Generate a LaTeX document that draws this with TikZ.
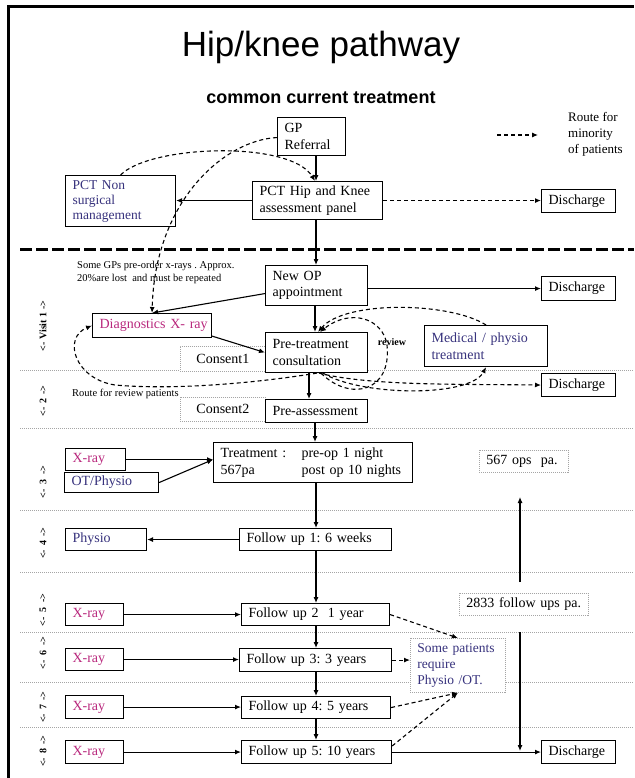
\documentclass[tikz,border=0pt]{standalone}
\usepackage{fontspec}
\setmainfont{Liberation Serif}
\newfontfamily\sansf{Liberation Sans}
\usetikzlibrary{arrows.meta}
\definecolor{mag}{RGB}{185,40,125}
\definecolor{navy}{RGB}{55,50,125}
\definecolor{sepgray}{RGB}{165,165,165}
\newcommand\drawbox[7][]{%
  \pgfmathsetmacro\bxw{#5-#3-14}%
  \pgfmathsetmacro\bxh{#6-#4}%
  \node[box,#1,text width=\bxw pt,minimum height=\bxh pt] (#2) at (#3,#4) {#7};}
\frenchspacing
\begin{document}
\begin{tikzpicture}[x=1pt,y=-1pt,
  box/.style={draw,fill=white,line width=1.1pt,inner xsep=7pt,inner ysep=1pt,align=left,anchor=north west,font=\fontsize{14}{16.5}\selectfont},
  dbox/.style={draw=sepgray,line width=0.8pt,dash pattern=on 1pt off 1pt},
  cbox/.style={align=center},
  arr/.style={line width=1.1pt,-{Latex[length=6pt,width=5pt]}},
  darr/.style={arr,dash pattern=on 4pt off 3pt},
  sepline/.style={draw=sepgray,line width=0.8pt,dash pattern=on 1pt off 1pt},
  stage/.style={rotate=90,inner sep=0pt,font=\bfseries\fontsize{10}{12}\selectfont},
  note/.style={font=\fontsize{10.5}{13}\selectfont,align=left,anchor=north west,inner sep=0pt}]
\useasboundingbox (0,0) rectangle (634,778);
\fill[white] (0,0) rectangle (634,778);
\draw[line width=3pt] (8,778) -- (8,7) -- (634,7);
% title
\node[font=\sansf\fontsize{35}{40}\selectfont] (title) at (321,47) {Hip/knee pathway};
\node[font=\sansf\bfseries\fontsize{18}{22}\selectfont] (sub) at (321,98) {common current treatment};
% legend
\coordinate (lg1) at (497,135); \coordinate (lg2) at (538,135);
\draw[darr] (lg1) -- (lg2);
\node[font=\fontsize{13}{16}\selectfont,align=left,anchor=north west,inner sep=0pt] (legend) at (568,112) {Route for\\minority\\of patients};
% separators
\draw[line width=3pt,dash pattern=on 12pt off 4pt] (20,249) -- (634,249);
\foreach \yy in {370,428,510,572,632,682,727} \draw[sepline] (20,\yy) -- (634,\yy);
% stage labels
\node[stage] (s1) at (43,326) {<- Visit 1 ->};
\node[stage] (s2) at (43,401) {<- \,2\, ->};
\node[stage] (s3) at (43,482) {<- \ 3 \ ->};
\node[stage] (s4) at (43,543) {<- \,4\, ->};
\node[stage] (s5) at (43,610) {<- \ 5 \ ->};
\node[stage] (s6) at (43,653) {<- \ 6 \ ->};
\node[stage] (s7) at (43,707) {<- \,7\, ->};
\node[stage] (s8) at (43,751) {<- \,8\, ->};
% boxes
\drawbox{gp}{277}{117}{345}{155}{GP\\Referral}
\drawbox{pct}{252}{181}{382}{219}{PCT Hip and Knee\\assessment panel}
\drawbox[text=navy,font=\fontsize{13.5}{15}\selectfont]{pctnon}{65}{175}{175}{226}{PCT Non\\surgical\\management}
\drawbox{dis1}{541}{189}{615}{212}{\mbox{Discharge}}
\drawbox{newop}{265}{265}{367}{305}{New OP\\appointment}
\drawbox{dis2}{541}{276}{615}{300}{\mbox{Discharge}}
\drawbox[text=mag]{diag}{92}{313}{211}{337}{\mbox{Diagnostics X- ray}}
\drawbox[dbox,cbox]{consent1}{180}{346}{265}{371}{Consent1}
\drawbox{pre}{265}{332}{367}{372}{Pre-treatment\\consultation}
\drawbox[text=navy]{med}{424}{325}{547}{366}{Medical / physio\\treatment}
\drawbox{dis3}{541}{373}{615}{396}{\mbox{Discharge}}
\drawbox[dbox,cbox]{consent2}{180}{397}{265}{421}{Consent2}
\drawbox{preas}{265}{399}{367}{422}{\mbox{Pre-assessment}}
\drawbox{treat}{213}{442}{412}{482}{\makebox[81pt][l]{Treatment :}pre-op 1 night\\\makebox[81pt][l]{567pa}post op 10 nights}
\drawbox[text=mag]{xray3}{65}{448}{125}{470}{\mbox{X-ray}}
\drawbox[text=navy]{ot}{64}{472}{158}{492}{\mbox{OT/Physio}}
\drawbox[dbox]{ops}{479}{450}{568}{472}{\mbox{567 ops\ \ pa.}}
\drawbox[text=navy]{physio}{65}{528}{146}{550}{\mbox{Physio}}
\drawbox{fu1}{239}{528}{391}{550}{\mbox{Follow up 1: 6 weeks}}
\drawbox[dbox]{fups}{459}{593}{588}{615}{\mbox{2833 follow ups pa.}}
\drawbox[text=mag]{xray5}{65}{603}{123}{625}{\mbox{X-ray}}
\drawbox{fu2}{241}{603}{389}{625}{\mbox{Follow up 2\ \ 1 year}}
\drawbox[dbox,text=navy,font=\fontsize{13.5}{16}\selectfont]{some}{410}{638}{505}{692}{Some patients\\require\\Physio /OT.}
\drawbox[text=mag]{xray6}{65}{648}{123}{670}{\mbox{X-ray}}
\drawbox{fu3}{239}{648}{391}{671}{\mbox{Follow up 3: 3 years}}
\drawbox[text=mag]{xray7}{65}{695}{123}{718}{\mbox{X-ray}}
\drawbox{fu4}{241}{696}{390}{718}{\mbox{Follow up 4: 5 years}}
\drawbox[text=mag]{xray8}{65}{740}{123}{763}{\mbox{X-ray}}
\drawbox{fu5}{241}{740}{391}{763}{\mbox{Follow up 5: 10 years}}
\drawbox{dis4}{541}{740}{615}{763}{\mbox{Discharge}}
% notes
\node[note] (gpnote) at (77,261) {Some GPs pre-order x-rays . Approx.\\20\%are lost\ \ and must be repeated};
\node[note] (routenote) at (72,389) {Route for review patients};
\node[font=\bfseries\fontsize{10}{12}\selectfont] (review) at (392,342) {review};
% spine
\coordinate (sp) at (316,0);
\draw[arr] (gp.south -| sp) -- (pct.north -| sp);
\draw[arr] (pct.south -| sp) -- (newop.north -| sp);
\draw[arr] ([xshift=-1pt]newop.south -| sp) -- ([xshift=-1pt]pre.north -| sp);
\draw[arr] ([xshift=-7pt]pre.south -| sp) -- ([xshift=-7pt]preas.north -| sp);
\draw[arr] ([xshift=-1pt]preas.south -| sp) -- ([xshift=-1pt]treat.north -| sp);
\draw[arr] (treat.south -| sp) -- (fu1.north -| sp);
\draw[arr] (fu1.south -| sp) -- (fu2.north -| sp);
\draw[arr] (fu2.south -| sp) -- (fu3.north -| sp);
\draw[arr] (fu3.south -| sp) -- (fu4.north -| sp);
\draw[arr] (fu4.south -| sp) -- (fu5.north -| sp);
% top part
\draw[arr] (pct.west) -- (pct.west -| pctnon.east);
\draw[darr] (pct.east) -- (pct.east -| dis1.west);
\draw[darr] (pctnon.north) .. controls (150,145) and (290,140) .. ([xshift=-1pt]pct.north -| sp);
\draw[darr] ([yshift=-1pt]gp.west) .. controls (225,140) and (155,200) .. (diag.north);
% visit 1
\draw[arr] (dis2.west -| newop.east) -- (dis2.west);
\draw[arr] ([yshift=-8pt]newop.west) -- (diag.north);
\draw[arr] ([yshift=2pt]diag.south east) -- (pre.west);
\draw[darr] (med.north) .. controls (450,302) and (345,300) .. ([xshift=2pt]pre.north -| sp);
\draw[darr] ([xshift=5pt]pre.south -| sp) .. controls (350,402) and (392,392) .. (387,345) .. controls (383,318) and (350,308) .. ([xshift=4pt]pre.north -| sp);
\draw[darr] ([xshift=3pt]pre.south -| sp) .. controls (370,386) and (460,384) .. (dis3.west);
\draw[darr] ([xshift=7pt]pre.south -| sp) .. controls (360,396) and (470,398) .. (med.south);
\draw[darr] ([xshift=1pt]pre.south -| sp) .. controls (250,384) and (170,390) .. (115,385) .. controls (75,379) and (62,338) .. (diag.west);
% treatment
\draw[arr] (xray3.east) -- (xray3.east -| treat.west);
\draw[arr] (ot.east) -- (xray3.east -| treat.west);
\draw[arr] (fu1.west) -- (fu1.west -| physio.east);
\coordinate (u1) at (520,582); \coordinate (u2) at (520,497);
\draw[arr] (u1) -- (u2);
\coordinate (d1) at (520,632); \coordinate (d2) at (520,751);
\draw[arr] (d1) -- (d2);
% follow ups
\draw[arr] (xray5.east) -- (xray5.east -| fu2.west);
\draw[arr] (xray6.east) -- (xray6.east -| fu3.west);
\draw[arr] (xray7.east) -- (xray7.east -| fu4.west);
\draw[arr] (xray8.east) -- (xray8.east -| fu5.west);
\draw[arr] (fu5.east) -- (dis4.west);
\draw[darr] (fu2.east) -- (some.north);
\draw[darr] (fu3.east) -- (fu3.east -| some.west);
\draw[darr] (fu4.east) -- (some.south);
\draw[darr] ([yshift=-6pt]fu5.north east) -- (some.south);
\end{tikzpicture}
\end{document}
